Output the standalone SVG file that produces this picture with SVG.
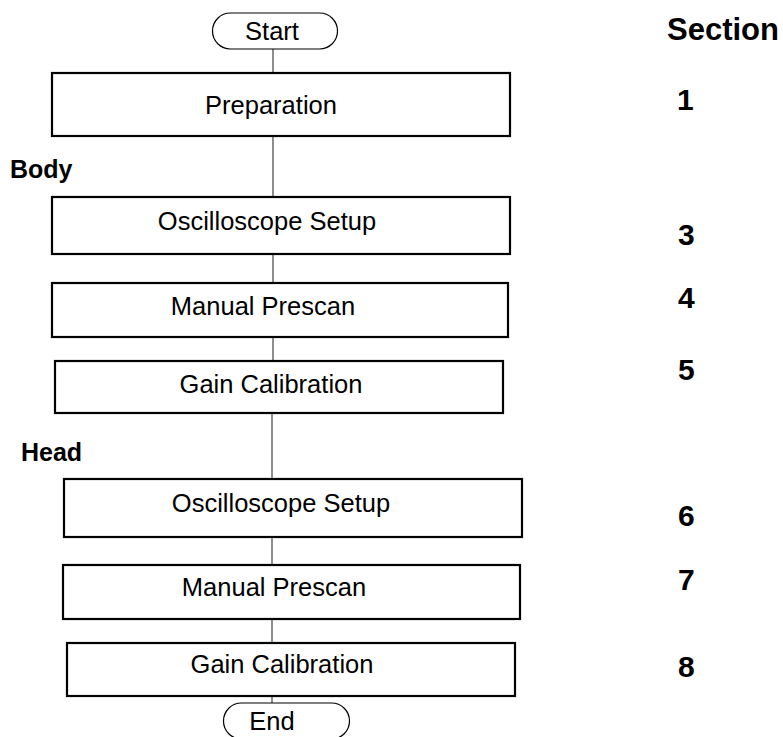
<svg xmlns="http://www.w3.org/2000/svg" width="783" height="737" viewBox="0 0 783 737">
<style>
text{font-family:"Liberation Sans",Arial,Helvetica,sans-serif;fill:#000}
.lbl{font-size:25.5px;text-anchor:middle}
.hdr{font-size:25px;font-weight:bold}
.sec{font-size:30px;font-weight:bold}
.box{fill:#fff;stroke:#000;stroke-width:2.2}
.term{fill:#fff;stroke:#000;stroke-width:1.2}
.conn line{stroke:#444;stroke-width:1.2}
</style>
<rect width="783" height="737" fill="#fff"/>
<g class="conn" id="connectors">
<line x1="273" y1="49" x2="273" y2="73"/>
<line x1="273" y1="136" x2="273" y2="197"/>
<line x1="273" y1="254" x2="273" y2="283"/>
<line x1="273" y1="337" x2="273" y2="361"/>
<line x1="272" y1="413" x2="272" y2="479"/>
<line x1="272" y1="537" x2="272" y2="565"/>
<line x1="272" y1="619" x2="272" y2="643"/>
<line x1="272" y1="696" x2="272" y2="703"/>
</g>
<g id="start"><rect class="term" x="212.5" y="13" width="125" height="36" rx="18"/><text class="lbl" x="272" y="40">Start</text></g>
<g id="preparation"><rect class="box" x="52" y="73" width="458" height="63"/><text class="lbl" x="271" y="114">Preparation</text></g>
<text class="hdr" x="10" y="178">Body</text>
<g id="body-osc"><rect class="box" x="52" y="197" width="458" height="57"/><text class="lbl" x="267" y="230">Oscilloscope Setup</text></g>
<g id="body-prescan"><rect class="box" x="52" y="283" width="456" height="54"/><text class="lbl" x="263" y="315">Manual Prescan</text></g>
<g id="body-gain"><rect class="box" x="55" y="361" width="448" height="52"/><text class="lbl" x="271" y="393">Gain Calibration</text></g>
<text class="hdr" x="21" y="461">Head</text>
<g id="head-osc"><rect class="box" x="64" y="479" width="458" height="58"/><text class="lbl" x="281" y="512">Oscilloscope Setup</text></g>
<g id="head-prescan"><rect class="box" x="63" y="565" width="457" height="54"/><text class="lbl" x="274" y="596">Manual Prescan</text></g>
<g id="head-gain"><rect class="box" x="67" y="643" width="448" height="53"/><text class="lbl" x="282" y="673">Gain Calibration</text></g>
<g id="end"><rect class="term" x="223.5" y="703" width="126" height="36" rx="18"/><text class="lbl" x="272" y="730">End</text></g>
<g id="sections">
<text class="hdr" x="667" y="40" style="font-size:31px">Section</text>
<text class="sec" x="677" y="110">1</text>
<text class="sec" x="678" y="245">3</text>
<text class="sec" x="678" y="308">4</text>
<text class="sec" x="678" y="380">5</text>
<text class="sec" x="678" y="526">6</text>
<text class="sec" x="678" y="590">7</text>
<text class="sec" x="678" y="677">8</text>
</g>
</svg>
